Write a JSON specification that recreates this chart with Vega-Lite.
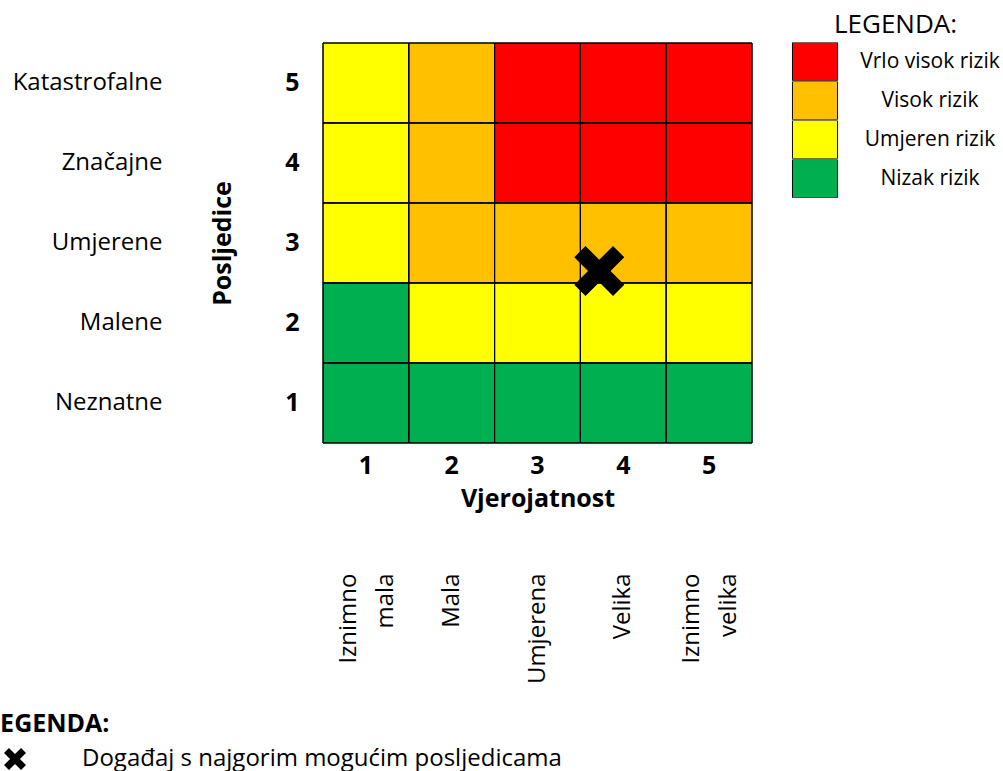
{
  "$schema": "https://vega.github.io/schema/vega-lite/v6.json",
  "width": 429,
  "height": 400,
  "autosize": {"type": "none"},
  "padding": {"left": 323, "top": 43, "right": 251, "bottom": 328},
  "background": "white",
  "config": {
    "view": {"stroke": null},
    "font": "Open Sans",
    "axis": {"grid": false, "ticks": false, "domain": false, "labelColor": "#000", "titleColor": "#000", "labelOverlap": false, "labelFlush": false}
  },
  "datasets": {
    "cells": [
      {"vjerojatnost": "1", "posljedice": "5", "rizik": "Umjeren rizik"},
      {"vjerojatnost": "2", "posljedice": "5", "rizik": "Visok rizik"},
      {"vjerojatnost": "3", "posljedice": "5", "rizik": "Vrlo visok rizik"},
      {"vjerojatnost": "4", "posljedice": "5", "rizik": "Vrlo visok rizik"},
      {"vjerojatnost": "5", "posljedice": "5", "rizik": "Vrlo visok rizik"},
      {"vjerojatnost": "1", "posljedice": "4", "rizik": "Umjeren rizik"},
      {"vjerojatnost": "2", "posljedice": "4", "rizik": "Visok rizik"},
      {"vjerojatnost": "3", "posljedice": "4", "rizik": "Vrlo visok rizik"},
      {"vjerojatnost": "4", "posljedice": "4", "rizik": "Vrlo visok rizik"},
      {"vjerojatnost": "5", "posljedice": "4", "rizik": "Vrlo visok rizik"},
      {"vjerojatnost": "1", "posljedice": "3", "rizik": "Umjeren rizik"},
      {"vjerojatnost": "2", "posljedice": "3", "rizik": "Visok rizik"},
      {"vjerojatnost": "3", "posljedice": "3", "rizik": "Visok rizik"},
      {"vjerojatnost": "4", "posljedice": "3", "rizik": "Visok rizik"},
      {"vjerojatnost": "5", "posljedice": "3", "rizik": "Visok rizik"},
      {"vjerojatnost": "1", "posljedice": "2", "rizik": "Nizak rizik"},
      {"vjerojatnost": "2", "posljedice": "2", "rizik": "Umjeren rizik"},
      {"vjerojatnost": "3", "posljedice": "2", "rizik": "Umjeren rizik"},
      {"vjerojatnost": "4", "posljedice": "2", "rizik": "Umjeren rizik"},
      {"vjerojatnost": "5", "posljedice": "2", "rizik": "Umjeren rizik"},
      {"vjerojatnost": "1", "posljedice": "1", "rizik": "Nizak rizik"},
      {"vjerojatnost": "2", "posljedice": "1", "rizik": "Nizak rizik"},
      {"vjerojatnost": "3", "posljedice": "1", "rizik": "Nizak rizik"},
      {"vjerojatnost": "4", "posljedice": "1", "rizik": "Nizak rizik"},
      {"vjerojatnost": "5", "posljedice": "1", "rizik": "Nizak rizik"}
    ],
    "event": [
      {"vjerojatnost": 3.72, "posljedice": 2.65, "dogadjaj": "Događaj s najgorim mogućim posljedicama"}
    ]
  },
  "layer": [
    {
      "data": {"name": "cells"},
      "mark": {"type": "rect", "stroke": "#000", "strokeWidth": 1},
      "encoding": {
        "x": {
          "field": "vjerojatnost", "type": "ordinal",
          "scale": {"domain": ["1", "2", "3", "4", "5"], "paddingInner": 0, "paddingOuter": 0},
          "axis": {"orient": "bottom", "labelAngle": 0, "labelFontSize": 25, "labelFontWeight": "bold", "labelPadding": 10, "title": "Vjerojatnost", "titleFontSize": 25, "titleFontWeight": "bold", "titlePadding": 8}
        },
        "y": {
          "field": "posljedice", "type": "ordinal",
          "scale": {"domain": ["5", "4", "3", "2", "1"], "paddingInner": 0, "paddingOuter": 0},
          "axis": {"orient": "left", "labelFontSize": 25, "labelFontWeight": "bold", "labelPadding": 24, "title": "Posljedice", "titleFontSize": 25, "titleFontWeight": "bold", "titlePadding": 49}
        },
        "fill": {
          "field": "rizik", "type": "nominal",
          "scale": {"domain": ["Vrlo visok rizik", "Visok rizik", "Umjeren rizik", "Nizak rizik"], "range": ["#FF0000", "#FFC000", "#FFFF00", "#00B050"]},
          "legend": {
            "orient": "none", "legendX": 468.5, "legendY": -31, "padding": 0,
            "title": "LEGENDA:", "titleFontSize": 26, "titleFontWeight": "normal", "titleColor": "#000", "titleAnchor": "middle", "titlePadding": 4.5,
            "symbolType": "M-1.18,-1H1.18V1H-1.18Z", "symbolSize": 1463, "symbolStrokeColor": "#000", "symbolStrokeWidth": 1, "symbolOpacity": 1, "symbolOffset": 3.5,
            "clipHeight": 38.3, "rowPadding": 0, "labelFontSize": 21, "labelAlign": "center", "labelOffset": 95, "labelColor": "#000", "labelLimit": 0
          }
        }
      }
    },
    {
      "data": {"name": "cells"},
      "mark": {"type": "rect", "fillOpacity": 0, "stroke": "#000", "strokeWidth": 1},
      "encoding": {
        "x": {
          "field": "vjerojatnost", "type": "ordinal",
          "scale": {"domain": ["1", "2", "3", "4", "5"], "paddingInner": 0, "paddingOuter": 0},
          "axis": {"orient": "bottom", "title": null, "labelAngle": -90, "labelAlign": "right", "labelBaseline": "middle", "labelPadding": 130, "labelFontSize": 24, "labelLineHeight": 37, "labelLimit": 0,
            "labelOffset": {"condition": {"test": "datum.value == '1' || datum.value == '5'", "value": -17}, "value": 0},
            "labelExpr": "datum.value == '1' ? ['Iznimno', 'mala'] : datum.value == '2' ? 'Mala' : datum.value == '3' ? 'Umjerena' : datum.value == '4' ? 'Velika' : ['Iznimno', 'velika']"}
        },
        "y": {
          "field": "posljedice", "type": "ordinal",
          "scale": {"domain": ["5", "4", "3", "2", "1"], "paddingInner": 0, "paddingOuter": 0},
          "axis": {"orient": "left", "title": null, "labelFontSize": 24, "labelPadding": 161, "labelAlign": "right", "labelLimit": 0,
            "labelExpr": "datum.value == '5' ? 'Katastrofalne' : datum.value == '4' ? 'Značajne' : datum.value == '3' ? 'Umjerene' : datum.value == '2' ? 'Malene' : 'Neznatne'"}
        }
      }
    },
    {
      "data": {"name": "event"},
      "mark": {"type": "point", "filled": true, "color": "#000", "opacity": 1, "size": 2500},
      "encoding": {
        "x": {"field": "vjerojatnost", "type": "quantitative", "scale": {"domain": [0.5, 5.5], "nice": false, "zero": false}, "axis": null},
        "y": {"field": "posljedice", "type": "quantitative", "scale": {"domain": [0.5, 5.5], "nice": false, "zero": false}, "axis": null},
        "shape": {
          "field": "dogadjaj", "type": "nominal",
          "scale": {"range": ["M-1,-0.55L-0.55,-1L0,-0.45L0.55,-1L1,-0.55L0.45,0L1,0.55L0.55,1L0,0.45L-0.55,1L-1,0.55L-0.45,0Z"]},
          "legend": {
            "orient": "none", "legendX": -337, "legendY": 669, "padding": 0,
            "title": "LEGENDA:", "titleFontSize": 25, "titleFontWeight": "bold", "titleColor": "#000", "titlePadding": 10,
            "symbolSize": 484, "symbolFillColor": "#000", "symbolStrokeWidth": 0, "symbolOpacity": 1, "symbolOffset": 17,
            "labelOffset": 55, "labelFontSize": 24, "labelColor": "#000", "labelLimit": 0
          }
        }
      }
    }
  ],
  "resolve": {"scale": {"x": "independent", "y": "independent"}}
}
